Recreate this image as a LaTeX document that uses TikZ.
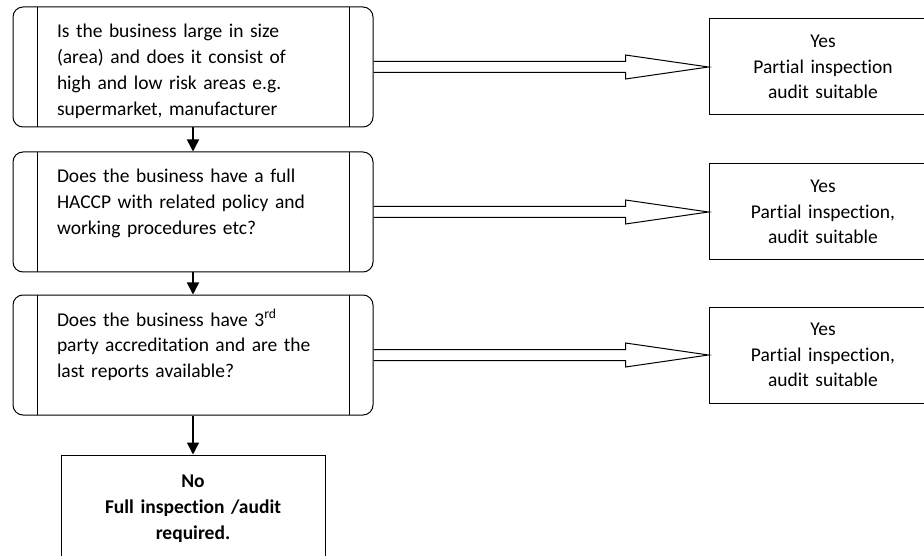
\documentclass[tikz,border=0pt]{standalone}
\usepackage{fontspec}
\setmainfont{Carlito}[Ligatures=CommonOff]
\usepackage{tikz}
\usetikzlibrary{arrows.meta,calc}

\tikzset{
  question/.style={rectangle,draw,line width=1pt,rounded corners=10pt,minimum width=360pt,
    text width=272pt,align=left,inner sep=0pt,text height=31pt,text depth=89pt,
    path picture={\draw[line width=1pt]
      ([xshift=24pt]path picture bounding box.north west) -- ([xshift=24pt]path picture bounding box.south west)
      ([xshift=-24pt]path picture bounding box.north east) -- ([xshift=-24pt]path picture bounding box.south east);}},
  answer/.style={rectangle,draw,line width=1pt,minimum width=228pt,minimum height=96pt,
    text width=220pt,align=center,inner sep=0pt},
  outcome/.style={rectangle,draw,line width=1pt,text width=264pt,align=center,inner sep=0pt,
    text height=32pt,text depth=88pt,font=\fontsize{19.5pt}{26pt}\selectfont\bfseries},
  down/.style={line width=1.5pt,-{Triangle[length=12pt,width=12pt]}},
  hollow/.style={line width=1pt,to path={
    ($(\tikztostart)+(0pt,5.5pt)$) -- ($(\tikztotarget)+(-83pt,5.5pt)$) -- ($(\tikztotarget)+(-83pt,12pt)$)
    -- (\tikztotarget) -- ($(\tikztotarget)+(-83pt,-12pt)$) -- ($(\tikztotarget)+(-83pt,-5.5pt)$)
    -- ($(\tikztostart)+(0pt,-5.5pt)$)}}
}

\begin{document}
\begin{tikzpicture}[x=1pt,y=-1pt,font=\fontsize{19.5pt}{25.7pt}\selectfont]
    \useasboundingbox (0,0) rectangle (924,556);
    \node [question] at (193,67) (size) {Is the business large in size\\(area) and does it consist of\\high and low risk areas e.g.\\supermarket, manufacturer};
    \node [question, below of=size,node distance=145pt] (haccp) {Does the business have a full\\HACCP with related policy and\\working procedures etc?};
    \node [question, below of=haccp,node distance=143pt] (accred) {Does the business have 3\textsuperscript{rd}\\party accreditation and are the\\last reports available?};
    \node [outcome, below of=accred,node distance=160pt] (full) {No\\Full inspection /audit\\required.};
    \node [answer, right of=size,node distance=630pt] (yesSize) {Yes\\Partial inspection\\audit suitable};
    \node [answer, right of=haccp,node distance=630pt] (yesHaccp) {Yes\\Partial inspection,\\audit suitable};
    \node [answer, right of=accred,node distance=630pt] (yesAccred) {Yes\\Partial inspection,\\audit suitable};
    \draw [down] (size) -- (haccp);
    \draw [down] (haccp) -- (accred);
    \draw [down] (accred) -- (full);
    \draw [hollow] (size.east) to (yesSize.west);
    \draw [hollow] (haccp.east) to (yesHaccp.west);
    \draw [hollow] (accred.east) to (yesAccred.west);
\end{tikzpicture}
\end{document}
